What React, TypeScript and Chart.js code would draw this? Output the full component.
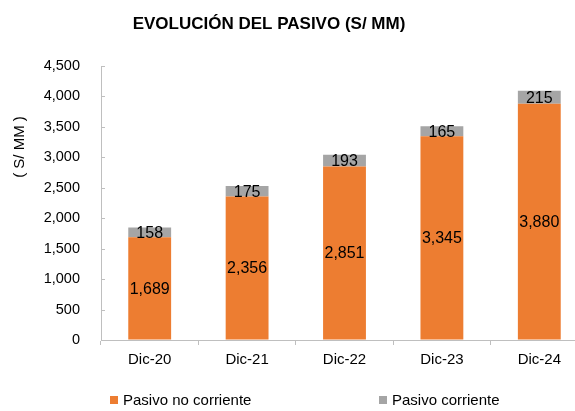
import React, { useEffect, useRef } from "react";
import { Chart, registerables } from "chart.js";

Chart.register(...registerables);

const categories = ["Dic-20", "Dic-21", "Dic-22", "Dic-23", "Dic-24"];
const pasivoNoCorriente = [1689, 2356, 2851, 3345, 3880];
const pasivoCorriente = [158, 175, 193, 165, 215];
const seriesNames = ["Pasivo no corriente", "Pasivo corriente"];
const seriesColors = ["#ED7D31", "#A5A5A5"];
const titleText = "EVOLUCIÓN DEL PASIVO (S/ MM)";
const yAxisTitle = "( S/ MM )";

const FONT = "'Liberation Sans', Arial, sans-serif";
const AXIS_COLOR = "#BFBFBF";

const fmt = (v: number) => v.toLocaleString("en-US");

const decorPlugin = {
  id: "decor",
  afterDraw(chart: any) {
    const ctx = chart.ctx;
    const area = chart.chartArea;
    const yScale = chart.scales.y;
    ctx.save();
    // inward y ticks
    ctx.strokeStyle = AXIS_COLOR;
    ctx.lineWidth = 1;
    yScale.ticks.forEach((t: any) => {
      const y = Math.round(yScale.getPixelForValue(t.value)) + 0.5;
      ctx.beginPath();
      ctx.moveTo(area.left, y);
      ctx.lineTo(area.left + 4, y);
      ctx.stroke();
    });
    // title
    ctx.fillStyle = "#000";
    ctx.font = `bold 17px ${FONT}`;
    ctx.textAlign = "center";
    ctx.textBaseline = "middle";
    ctx.fillText(titleText, 269, 24);
    // y axis title
    ctx.save();
    ctx.translate(20, 147);
    ctx.rotate(-Math.PI / 2);
    ctx.font = `15px ${FONT}`;
    ctx.fillStyle = "#000";
    ctx.textAlign = "center";
    ctx.textBaseline = "middle";
    ctx.fillText(yAxisTitle, 0, 0);
    ctx.restore();
    // data labels
    ctx.font = `16px ${FONT}`;
    ctx.fillStyle = "#000";
    ctx.textAlign = "center";
    ctx.textBaseline = "middle";
    chart.data.datasets.forEach((ds: any, i: number) => {
      const meta = chart.getDatasetMeta(i);
      meta.data.forEach((bar: any, j: number) => {
        const p = bar.getProps(["x", "y", "base"], true);
        ctx.fillText(fmt(ds.data[j]), p.x, (p.y + p.base) / 2 + 1);
      });
    });
    // legend
    const legendItems = [
      { x: 110, label: seriesNames[0], color: seriesColors[0] },
      { x: 379, label: seriesNames[1], color: seriesColors[1] },
    ];
    ctx.font = `15px ${FONT}`;
    ctx.textAlign = "left";
    legendItems.forEach((it) => {
      ctx.fillStyle = it.color;
      ctx.fillRect(it.x, 396, 8, 8);
      ctx.fillStyle = "#000";
      ctx.fillText(it.label, it.x + 13, 401);
    });
    ctx.restore();
  },
};

export default function App() {
  const ref = useRef<HTMLCanvasElement | null>(null);
  useEffect(() => {
    document.body.style.margin = "0";
    document.body.style.overflow = "hidden";
    const chart = new Chart(ref.current as HTMLCanvasElement, {
      type: "bar",
      data: {
        labels: categories,
        datasets: [
          { label: seriesNames[0], data: pasivoNoCorriente, backgroundColor: seriesColors[0] },
          { label: seriesNames[1], data: pasivoCorriente, backgroundColor: seriesColors[1] },
        ],
      },
      options: {
        animation: false,
        responsive: false,
        devicePixelRatio: 1,
        layout: { padding: { top: 66, right: 12, bottom: 0, left: 0 } },
        datasets: { bar: { categoryPercentage: 1, barPercentage: 0.44 } },
        plugins: { legend: { display: false }, tooltip: { enabled: false }, title: { display: false } },
        scales: {
          x: {
            stacked: true,
            offset: true,
            grid: { drawOnChartArea: false, offset: true, tickLength: 5, color: AXIS_COLOR },
            border: { color: AXIS_COLOR },
            ticks: { color: "#000", font: { family: FONT, size: 15 }, padding: 6 },
            afterFit: (s: any) => { s.height = 71; },
          },
          y: {
            stacked: true,
            min: 0,
            max: 4500,
            grid: { drawOnChartArea: false, drawTicks: false },
            border: { color: AXIS_COLOR },
            ticks: {
              stepSize: 500,
              padding: 21,
              color: "#000",
              font: { family: FONT, size: 14.5 },
              callback: (v: any) => fmt(Number(v)),
            },
            afterFit: (s: any) => { s.width = 101; },
          },
        },
      },
      plugins: [decorPlugin],
    });
    return () => chart.destroy();
  }, []);
  return (
    <div style={{ position: "absolute", left: 0, top: 0, width: 575, height: 411, overflow: "hidden", background: "#fff" }}>
      <canvas ref={ref} width={600} height={411} style={{ display: "block" }} />
    </div>
  );
}
